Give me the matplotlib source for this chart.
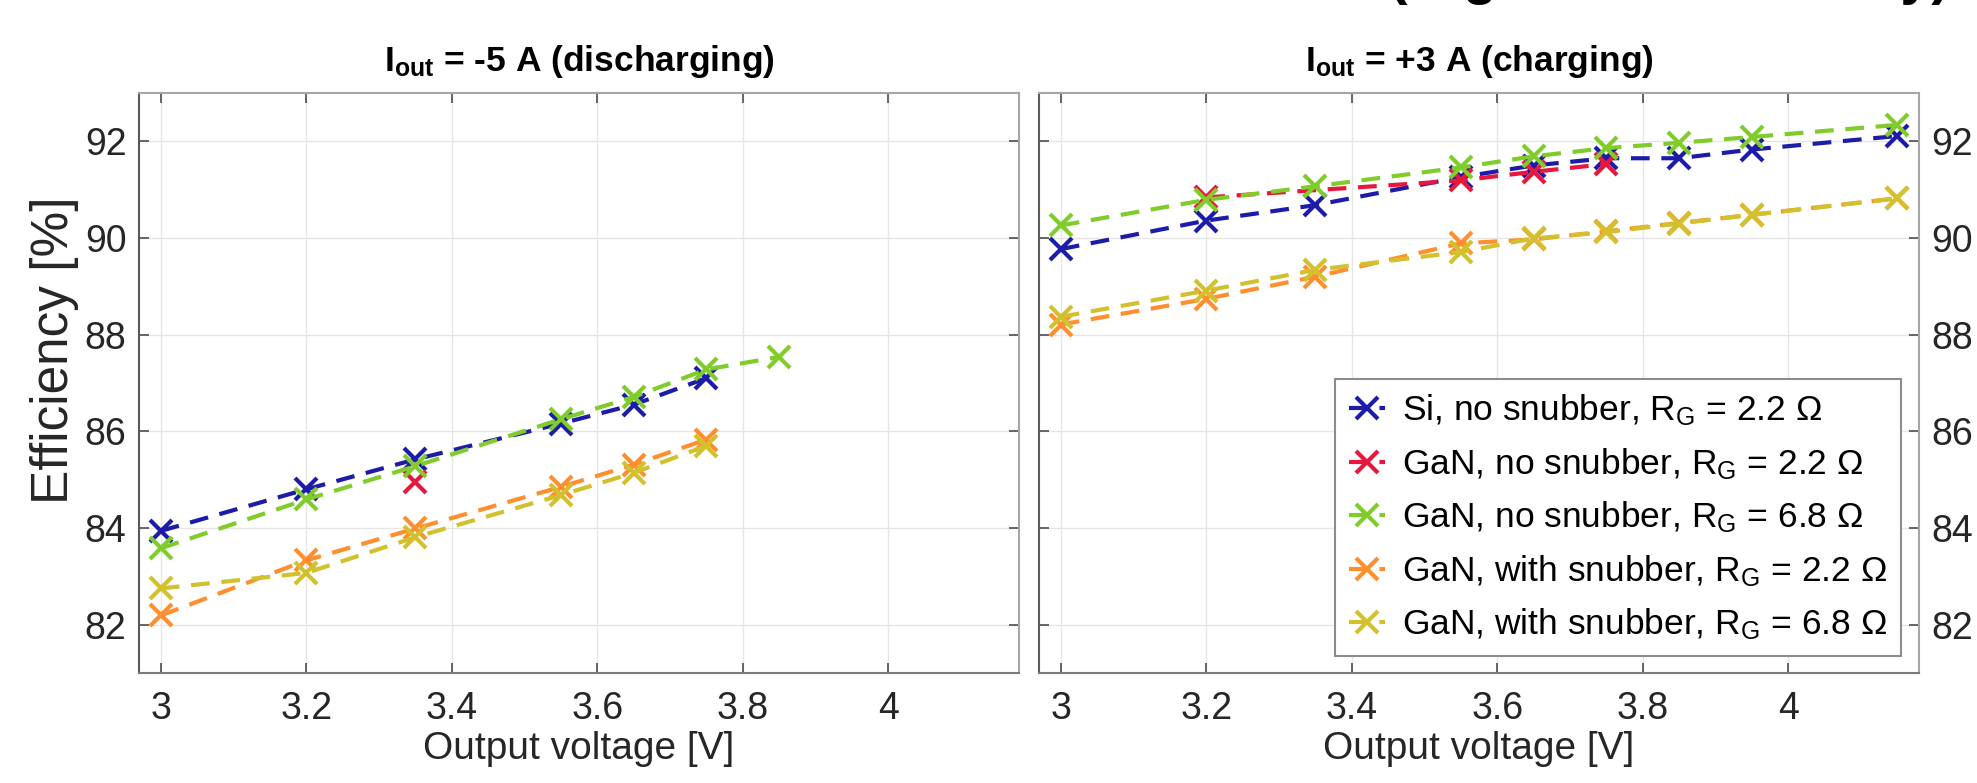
import matplotlib
matplotlib.use('Agg')
import matplotlib.pyplot as plt
import numpy as np

plt.rcParams['font.family'] = ['Liberation Sans', 'DejaVu Sans']
plt.rcParams['mathtext.fontset'] = 'custom'
plt.rcParams['mathtext.rm'] = 'Liberation Sans'
plt.rcParams['mathtext.it'] = 'Liberation Sans:italic'
plt.rcParams['mathtext.bf'] = 'Liberation Sans:bold'

# ---- data ----
labels = [r'Si, no snubber, R$_{\rm G}$ = 2.2 $\Omega$',
          r'GaN, no snubber, R$_{\rm G}$ = 2.2 $\Omega$',
          r'GaN, no snubber, R$_{\rm G}$ = 6.8 $\Omega$',
          r'GaN, with snubber, R$_{\rm G}$ = 2.2 $\Omega$',
          r'GaN, with snubber, R$_{\rm G}$ = 6.8 $\Omega$']
colors = ['#1c1ca8', '#e8173e', '#7fcc2a', '#ff8f2e', '#d2c12d']

# I_out = -5 A (discharging)
v_dis_si = [3.0, 3.2, 3.35, 3.55, 3.65, 3.75]
e_dis_si = [83.94, 84.80, 85.42, 86.16, 86.55, 87.10]
v_dis_gan22 = [3.35]
e_dis_gan22 = [84.96]
v_dis_gan68 = [3.0, 3.2, 3.35, 3.55, 3.65, 3.75, 3.85]
e_dis_gan68 = [83.58, 84.59, 85.28, 86.25, 86.71, 87.28, 87.54]
v_dis_snub22 = [3.0, 3.2, 3.35, 3.55, 3.65, 3.75]
e_dis_snub22 = [82.19, 83.33, 83.99, 84.85, 85.31, 85.83]
v_dis_snub68 = [3.0, 3.2, 3.35, 3.55, 3.65, 3.75]
e_dis_snub68 = [82.75, 83.07, 83.81, 84.68, 85.14, 85.70]

# I_out = +3 A (charging)
v_chg_si = [3.0, 3.2, 3.35, 3.55, 3.65, 3.75, 3.85, 3.95, 4.15]
e_chg_si = [89.77, 90.36, 90.68, 91.26, 91.50, 91.65, 91.65, 91.83, 92.11]
v_chg_gan22 = [3.2, 3.55, 3.65, 3.75]
e_chg_gan22 = [90.84, 91.19, 91.37, 91.53]
v_chg_gan68 = [3.0, 3.2, 3.35, 3.55, 3.65, 3.75, 3.85, 3.95, 4.15]
e_chg_gan68 = [90.26, 90.79, 91.07, 91.46, 91.69, 91.86, 91.97, 92.09, 92.34]
v_chg_snub22 = [3.0, 3.2, 3.35, 3.55, 3.65, 3.75, 3.85, 3.95, 4.15]
e_chg_snub22 = [88.21, 88.74, 89.20, 89.89, 89.97, 90.14, 90.31, 90.48, 90.82]
v_chg_snub68 = [3.0, 3.2, 3.35, 3.55, 3.65, 3.75, 3.85, 3.95, 4.15]
e_chg_snub68 = [88.37, 88.91, 89.34, 89.71, 89.99, 90.12, 90.30, 90.48, 90.82]

x_ticks = [3, 3.2, 3.4, 3.6, 3.8, 4]
x_ticklabels = ['3', '3.2', '3.4', '3.6', '3.8', '4']
y_ticks = [82, 84, 86, 88, 90, 92]

dis = [(v_dis_si, e_dis_si), (v_dis_gan22, e_dis_gan22), (v_dis_gan68, e_dis_gan68),
       (v_dis_snub22, e_dis_snub22), (v_dis_snub68, e_dis_snub68)]
chg = [(v_chg_si, e_chg_si), (v_chg_gan22, e_chg_gan22), (v_chg_gan68, e_chg_gan68),
       (v_chg_snub22, e_chg_snub22), (v_chg_snub68, e_chg_snub68)]

fig = plt.figure(figsize=(19.77, 7.83), dpi=100)
ax1 = fig.add_axes([139/1977, 1-673/783, 880/1977, 580/783])
ax2 = fig.add_axes([1039/1977, 1-673/783, 880/1977, 580/783])

tick_col = '#262626'


def style(ax, side):
    ax.set_xlim(2.97, 4.18)
    ax.set_ylim(81, 93)
    ax.set_xticks(x_ticks)
    ax.set_xticklabels(x_ticklabels)
    ax.set_yticks(y_ticks)
    ax.grid(True, color='#e6e6e6', lw=1.0)
    ax.set_axisbelow(True)
    ax.tick_params(direction='in', length=7, width=1.2, labelsize=27,
                   colors='#4d4d4d', labelcolor=tick_col, top=True, right=True)
    ax.tick_params(axis='x', pad=13)
    ax.tick_params(axis='y', pad=9)
    if side == 'right':
        ax.yaxis.tick_right()
        ax.tick_params(axis='y', left=True, right=True, labelleft=False,
                       labelright=True)
    for s in ['top', 'right', 'left', 'bottom']:
        ax.spines[s].set_color('#a6a6a6')
        ax.spines[s].set_linewidth(1.5)
    ax.spines['bottom'].set_color('#7a7a7a')
    ax.spines['left'].set_color('#5a5a5a')
    ax.set_xlabel('Output voltage [V]', fontsize=28, color=tick_col, labelpad=3)


for ax, series in [(ax1, dis), (ax2, chg)]:
    for (v, e), c, lab in zip(series, colors, labels):
        ax.plot(v, e, ls=(0, (4.5, 2.8)), lw=3.0, color=c, marker='x',
                markersize=16, mew=3.0, label=lab)

style(ax1, 'left')
style(ax2, 'right')

fig.text(55/1977, 1 - 350/783, 'Efficiency [%]', rotation=90, ha='center',
         va='center', fontsize=37, color=tick_col)
ax1.set_title(r'I$_{\mathbf{out}}$ = -5 A (discharging)', fontsize=25.5,
              fontweight='bold', pad=16)
ax2.set_title(r'I$_{\mathbf{out}}$ = +3 A (charging)', fontsize=25.5,
              fontweight='bold', pad=16)

leg = ax2.legend(loc='lower right', bbox_to_anchor=(0.98, 0.029), fontsize=25.5,
                 handlelength=1.0, handletextpad=0.5, labelspacing=0.5,
                 borderpad=0.4, borderaxespad=0, fancybox=False, framealpha=1,
                 edgecolor='#8c8c8c')
leg.get_frame().set_linewidth(1.5)

# overall title, clipped by the top edge in the original
fig.text(1950/1977, 1 + 7/783, '(High-side efficiency)', ha='right',
         va='baseline', fontsize=40, fontweight='bold')

fig.savefig('out.png', dpi=100)
